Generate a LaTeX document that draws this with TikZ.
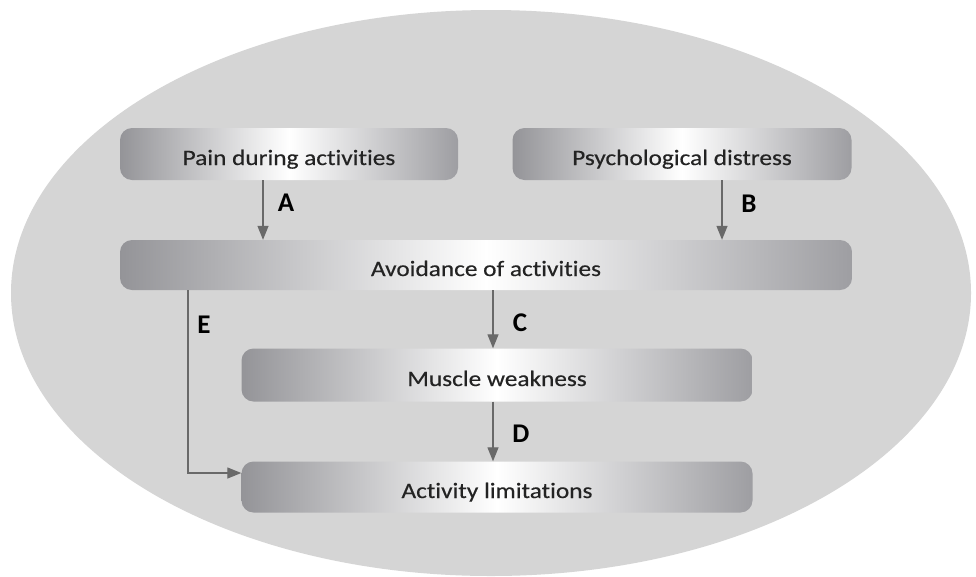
\documentclass[tikz,border=0pt]{standalone}
\usepackage{fontspec}
\setmainfont{Carlito}[Ligatures=NoCommon]
\newfontfamily\boxfont[FakeStretch=1.15, FakeBold=0.4, Ligatures=NoCommon]{Carlito}
\usetikzlibrary{arrows.meta}
\definecolor{ellfill}{RGB}{213,213,213}
\definecolor{boxedge}{RGB}{148,148,152}
\definecolor{boxright}{RGB}{158,158,162}
\definecolor{txtcol}{RGB}{35,35,35}
\definecolor{arrcol}{RGB}{105,105,105}
\begin{document}
\begin{tikzpicture}[x=1pt,y=-1pt,
  box/.style={rounded corners=12pt, left color=boxedge, right color=boxright, middle color=white,
    minimum height=52pt, inner sep=0pt, text=txtcol, font=\boxfont\fontsize{22}{26}\selectfont,
    text height=26pt, text depth=4pt},
  arr/.style={draw=arrcol, line width=1.3pt, -{Triangle[length=14pt,width=11pt]}},
  lbl/.style={font=\bfseries\fontsize{27}{32}\selectfont, text=black, inner sep=0pt}
]
\useasboundingbox (0,0) rectangle (976,576);
\fill[white] (0,0) rectangle (976,576);
\fill[ellfill] (491,293) ellipse [x radius=480, y radius=283];

\node[box, minimum width=338pt] (pain) at (289,154) {Pain during activities};
\node[box, minimum width=339pt] (psych) at (682,154) {Psychological distress};
\node[box, minimum width=732pt, minimum height=50pt] (avoid) at (486,265) {Avoidance of activities};
\node[box, minimum width=511pt, minimum height=53pt] (muscle) at (497,375) {Muscle weakness};
\node[box, minimum width=511pt, minimum height=51pt] (activity) at (497,487) {Activity limitations};

\draw[arr] ([xshift=-26pt]pain.south) -- ([xshift=-26pt]pain.south |- avoid.north);
\draw[arr] ([xshift=40pt]psych.south) -- ([xshift=40pt]psych.south |- avoid.north);
\draw[arr] ([xshift=-4pt]muscle.north |- avoid.south) -- ([xshift=-4pt]muscle.north);
\draw[arr] ([xshift=-4pt]muscle.south) -- ([xshift=-4pt]activity.north);
\draw[arr] ([xshift=-298pt]avoid.south) |- ([yshift=14pt]activity.west);

\node[lbl] (la) at (286,203) {A};
\node[lbl] (lb) at (749,204) {B};
\node[lbl] (lc) at (520,323) {C};
\node[lbl] (ld) at (521,434) {D};
\node[lbl] (le) at (204,325) {E};
\end{tikzpicture}
\end{document}
